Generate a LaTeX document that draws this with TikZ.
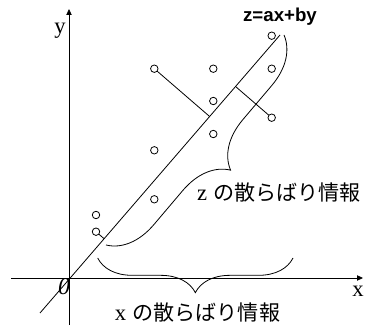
\documentclass[tikz,border=0pt]{standalone}
\usepackage{fontspec}
\newfontfamily\cjk{Noto Sans CJK JP}
\newfontfamily\hel{Liberation Sans}
\newfontfamily\ser{Liberation Serif}
\usetikzlibrary{calc,arrows.meta,decorations.pathreplacing}
\begin{document}
\begin{tikzpicture}[x=0.75pt,y=-0.75pt,line width=0.6pt,
  axis/.style={-{Triangle[length=4.5pt,width=4pt]}},
  pt/.style={circle,draw,fill=white,inner sep=0pt,minimum size=5.6pt},
  lbl/.style={inner sep=0pt,font=\ser\fontsize{17}{17}\selectfont},
  jlbl/.style={inner sep=0pt,font=\fontsize{15.8}{16}\selectfont},
  brc/.style={decorate,decoration={brace,amplitude=#1}}]
\useasboundingbox (0,0) rectangle (367,327);
% axes
\coordinate (ybot) at (69,325);
\coordinate (ytop) at (69,9);
\coordinate (xl) at (11,278);
\coordinate (xr) at (363,278);
\draw[axis] (ybot) -- (ytop);
\draw[axis] (xl) -- (xr);
\node[lbl] (ylab) at (60,31) {y};
\node[lbl] (xlab) at (358,291) {x};
\node[lbl,font=\ser\itshape\fontsize{18}{18}\selectfont] (olab) at (64,287) {0};
% regression line
\coordinate (la) at (40,313);
\coordinate (lb) at (280,35);
\draw (la) -- (lb);
% points
\foreach \n/\x/\y in {p1/271.7/35.7,p2/154.3/68.7,p3/213.3/68.7,p4/271.7/68.7,p5/213.3/101,p6/271.7/117.7,p7/213.3/134,p8/154.3/150.3,p9/154.3/199.3,p10/96/215,p11/96/231.7}
  \coordinate (\n) at (\x,\y);
% perpendiculars
\coordinate (f2) at ($(la)!(p2)!(lb)$);
\coordinate (f6) at ($(la)!(p6)!(lb)$);
\coordinate (f11) at ($(la)!(p11)!(lb)$);
\draw (p2) -- (f2);
\draw (p6) -- (f6);
\draw (p11) -- (f11);
\foreach \n in {p1,p2,p3,p4,p5,p6,p7,p8,p9,p10,p11}
  \node[pt] (c\n) at (\n) {};
% braces
\coordinate (zb1) at (284,35);
\coordinate (zb2) at (106,245);
\draw[brc=35pt] (zb1) -- (zb2);
\coordinate (xb1) at (293,258);
\coordinate (xb2) at (97.7,258);
\draw[brc=26pt] (xb1) -- (xb2);
% labels
\node[inner sep=0pt,font=\hel\bfseries\fontsize{14}{14}\selectfont] (zeq) at (280,17) {z=ax+by};
\node[jlbl] (zlab) at (279,193) {{\ser\fontsize{17}{17}\selectfont z} {\cjk の散らばり情報}};
\node[jlbl] (xinfo) at (197.5,313) {{\ser\fontsize{17}{17}\selectfont x} {\cjk の散らばり情報}};
\end{tikzpicture}
\end{document}
